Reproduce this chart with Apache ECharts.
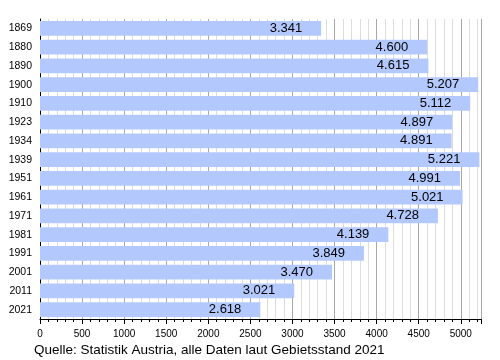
<!DOCTYPE html>
<html><head><meta charset="utf-8">
<script src="https://cdn.jsdelivr.net/npm/echarts@6/dist/echarts.min.js"></script>
<style>html,body{margin:0;padding:0;background:#fff}#c{width:500px;height:360px}</style>
</head><body><div id="c"></div>
<script>
var years = ['1869','1880','1890','1900','1910','1923','1934','1939','1951','1961','1971','1981','1991','2001','2011','2021'];
var population = [3341,4600,4615,5207,5112,4897,4891,5221,4991,5021,4728,4139,3849,3470,3021,2618];
var sourceText = 'Quelle: Statistik Austria, alle Daten laut Gebietsstand 2021';

function fmt(v){ var s=String(v); return s.replace(/\B(?=(\d{3})+(?!\d))/g,'.'); }

var chart = echarts.init(document.getElementById('c'), null, {renderer:'canvas'});
chart.setOption({
  animation:false,
  textStyle:{fontFamily:'Liberation Sans, Arial, sans-serif'},
  grid:{left:40,right:19,top:19,bottom:41,containLabel:false},
  graphic:[{type:'text',left:34,top:343,style:{text:sourceText,font:'13.5px "Liberation Sans", Arial, sans-serif',fill:'#000'}}],
  xAxis:{
    type:'value',min:0,max:5240,interval:500,
    axisLine:{show:true,lineStyle:{color:'#000',width:1}},
    axisTick:{show:true,length:5,lineStyle:{color:'#000'}},
    minorTick:{show:true,splitNumber:5,length:3,lineStyle:{color:'#000'}},
    splitLine:{show:true,lineStyle:{color:'#a8a8a8',width:1}},
    minorSplitLine:{show:true,lineStyle:{color:'#dcdcdc',width:1}},
    axisLabel:{color:'#000',fontSize:10,margin:10,showMaxLabel:false,
      formatter:function(v){return v>5200?'':String(v);}}
  },
  yAxis:{
    type:'category',data:years,inverse:true,
    axisLine:{show:true,lineStyle:{color:'#000',width:1}},
    axisTick:{show:false},
    axisLabel:{color:'#000',fontSize:10.5,margin:8},
    splitLine:{show:false}
  },
  series:[{
    type:'bar',data:population,barCategoryGap:'22%',
    itemStyle:{color:'#b3c9fd'},
    label:{show:true,position:'insideRight',distance:19,color:'#000',fontSize:13,
      formatter:function(p){return fmt(p.value);}}
  }]
});
</script></body></html>
